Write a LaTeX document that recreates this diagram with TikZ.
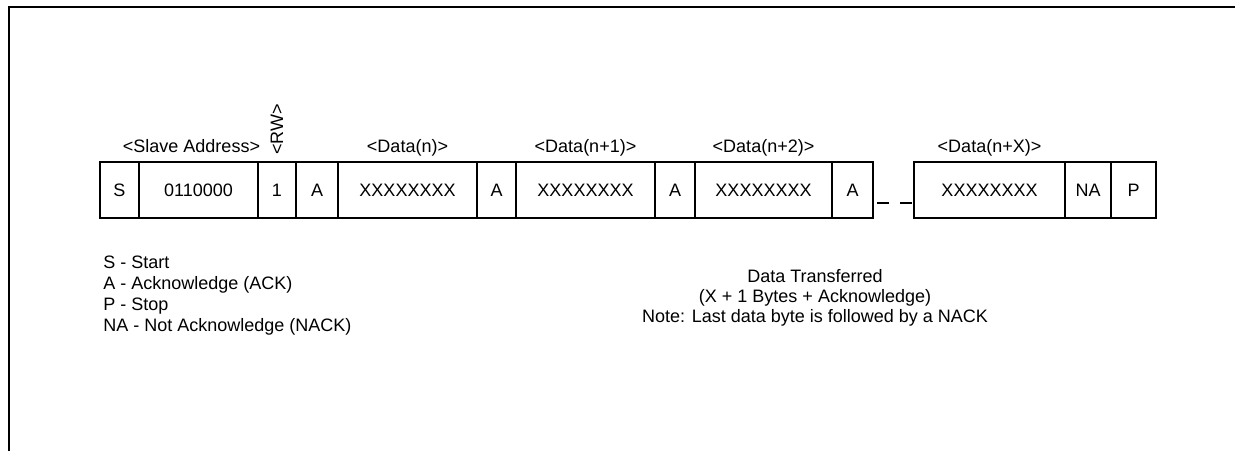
\documentclass[tikz,border=0pt]{standalone}
\usepackage{fontspec}
\setmainfont{Liberation Sans}
\usetikzlibrary{positioning,calc}
\tikzset{
    celle/.style={
           rectangle,
           draw=black, line width=1.1pt,
           minimum height=28pt,
           inner sep=0pt, outer sep=0pt,
           text centered},
    tekst/.style={
           inner sep=0pt},
    luke/.style={
           line width=1.1pt,
           dash pattern=on 6pt off 5.5pt,
           dash phase=9.5pt}
}

\begin{document}
\begin{tikzpicture}[x=0.5pt, y=-0.5pt, node distance=0pt, font=\fontsize{9}{10.6}\selectfont]
        \useasboundingbox (0,0) rectangle (1235,450);
        \draw[line width=1pt] (9,470) -- (9,7) -- (1260,7);

        \node[celle, minimum width=19.5pt, anchor=north west] (s) at (100,162) {S};
        \node[celle, minimum width=59.5pt, right=of s] (addr) {0110000};
        \node[celle, minimum width=19pt, right=of addr] (rw) {1};
        \node[celle, minimum width=21pt, right=of rw] (a1) {A};
        \node[celle, minimum width=69.5pt, right=of a1] (d1) {XXXXXXXX};
        \node[celle, minimum width=19.5pt, right=of d1] (a2) {A};
        \node[celle, minimum width=69.5pt, right=of a2] (d2) {XXXXXXXX};
        \node[celle, minimum width=20pt, right=of d2] (a3) {A};
        \node[celle, minimum width=68.5pt, right=of a3] (d3) {XXXXXXXX};
        \node[celle, minimum width=20.5pt, right=of d3] (a4) {A};
        \node[celle, minimum width=75.5pt, right=20.5pt of a4] (dx) {XXXXXXXX};
        \node[celle, minimum width=23pt, right=of dx] (na) {NA};
        \node[celle, minimum width=22.5pt, right=of na] (p) {P};

        \draw[luke] ([yshift=7.5pt]a4.south east) -- ([yshift=7.5pt]dx.south west);

        \node[tekst, anchor=base, xshift=-3.5pt] (lsa) at ([yshift=5pt]addr.north) {<Slave Address>};
        \node[tekst, rotate=90, anchor=west] (lrw) at ([yshift=3.5pt]rw.north) {<RW>};
        \node[tekst, anchor=base] (ld1) at ([yshift=5pt]d1.north) {<Data(n)>};
        \node[tekst, anchor=base] (ld2) at ([yshift=5pt]d2.north) {<Data(n+1)>};
        \node[tekst, anchor=base] (ld3) at ([yshift=5pt]d3.north) {<Data(n+2)>};
        \node[tekst, anchor=base] (ldx) at ([yshift=5pt]dx.north) {<Data(n+X)>};

        \node[tekst, anchor=base west] (leg1) at (103,268) {S - Start};
        \node[tekst, anchor=base west] (leg2) at ([yshift=-10.6pt]leg1.base west) {A - Acknowledge (ACK)};
        \node[tekst, anchor=base west] (leg3) at ([yshift=-10.6pt]leg2.base west) {P - Stop};
        \node[tekst, anchor=base west] (leg4) at ([yshift=-10.6pt]leg3.base west) {NA - Not Acknowledge (NACK)};

        \node[tekst, anchor=base] (dt1) at (815,282) {Data Transferred};
        \node[tekst, anchor=base] (dt2) at ([yshift=-10pt]dt1.base) {(X + 1 Bytes + Acknowledge)};
        \node[tekst, anchor=base] (note) at ([yshift=-10pt]dt2.base) {Note: Last data byte is followed by a NACK};
\end{tikzpicture}
\end{document}
